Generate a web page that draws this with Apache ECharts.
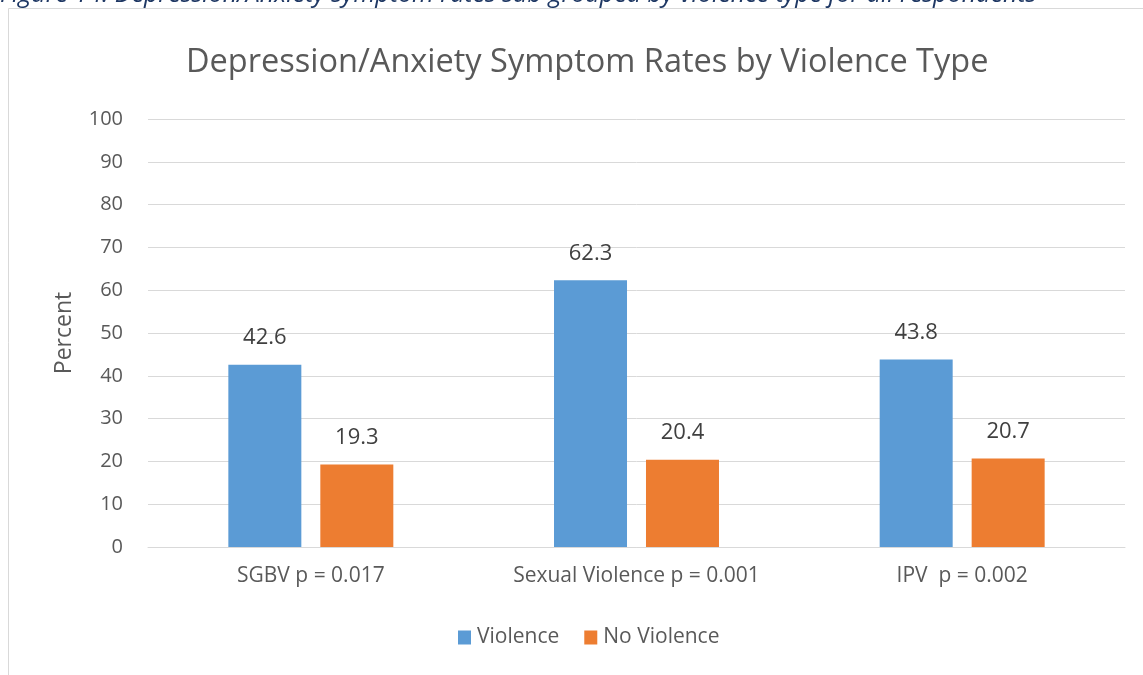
<!DOCTYPE html>
<html lang="en">
<head>
    <meta charset="UTF-8">
    <title>Depression/Anxiety Symptom Rates</title>
    <script src="https://cdn.jsdelivr.net/npm/echarts@6/dist/echarts.min.js"></script>
    <style>
        html, body { margin: 0; padding: 0; background: #fff; }
    </style>
</head>
<body>
<div id="chart" style="width: 1143px;height: 675px;"></div>
<script>
    // data
    var categories = ['SGBV p = 0.017', 'Sexual Violence p = 0.001', 'IPV  p = 0.002'];
    var violence = [42.6, 62.3, 43.8];
    var noViolence = [19.3, 20.4, 20.7];
    var seriesNames = ['Violence', 'No Violence'];

    var txt = '#595959';
    var font = '"Open Sans", "Noto Sans", sans-serif';

    var myChart = echarts.init(document.getElementById('chart'));
    var option = {
        backgroundColor: '#fff',
        animation: false,
        title: {
            text: 'Depression/Anxiety Symptom Rates by Violence Type',
            left: 181,
            top: 41,
            textStyle: { color: txt, fontSize: 32.5, fontWeight: 'normal', fontFamily: font }
        },
        graphic: [
            {
                type: 'text', left: 0, top: -18,
                style: {
                    text: 'Figure 14: Depression/Anxiety symptom rates sub grouped by violence type for all respondents',
                    fill: '#1f3864', font: 'italic 25px "Open Sans", sans-serif'
                }
            },
            {
                type: 'rect', shape: { x: 8.5, y: 8.5, width: 1200, height: 700 },
                style: { fill: 'none', stroke: '#d9d9d9', lineWidth: 1 }
            }
        ],
        legend: {
            bottom: 22,
            left: 453,
            itemWidth: 13, itemHeight: 14, itemGap: 25,
            icon: 'rect',
            textStyle: { color: txt, fontSize: 21, fontFamily: font, padding: [0, 0, 0, 1] },
            data: seriesNames
        },
        grid: { left: 148, right: 18, top: 119, bottom: 128 },
        xAxis: {
            type: 'category',
            data: categories,
            axisLine: { lineStyle: { color: '#d9d9d9' } },
            axisTick: { show: false },
            axisLabel: { color: txt, fontSize: 21, fontFamily: font, margin: 19 }
        },
        yAxis: {
            type: 'value',
            min: 0, max: 100, interval: 10,
            name: 'Percent',
            nameLocation: 'middle',
            nameGap: 72,
            nameTextStyle: { color: txt, fontSize: 23, fontFamily: font },
            axisLine: { show: false },
            axisTick: { show: false },
            axisLabel: { color: txt, fontSize: 20, fontFamily: font, margin: 25 },
            splitLine: { lineStyle: { color: '#d9d9d9' } }
        },
        series: [
            {
                name: seriesNames[0], type: 'bar', data: violence,
                barWidth: 73, barGap: '26%',
                itemStyle: { color: '#5b9bd5' },
                label: { show: true, position: 'top', distance: 16, color: '#404040', fontSize: 22, fontFamily: font }
            },
            {
                name: seriesNames[1], type: 'bar', data: noViolence,
                barWidth: 73,
                itemStyle: { color: '#ed7d31' },
                label: { show: true, position: 'top', distance: 16, color: '#404040', fontSize: 22, fontFamily: font }
            }
        ]
    };
    myChart.setOption(option);
</script>
</body>
</html>
